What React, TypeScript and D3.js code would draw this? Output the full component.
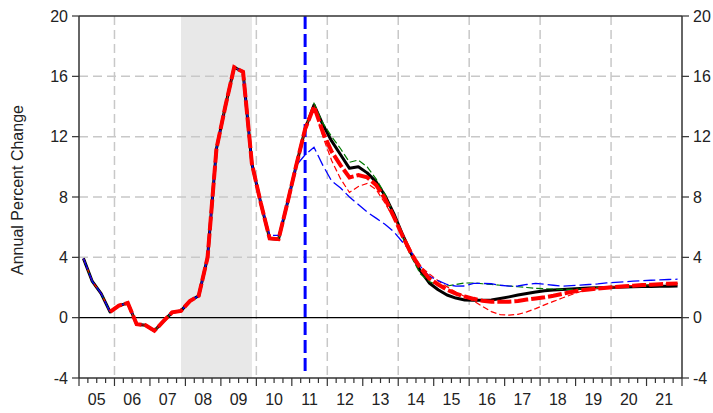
import React from 'react';
import * as d3 from 'd3';

// Year tick labels (2005..2021)
const yearLabels = ['05','06','07','08','09','10','11','12','13','14','15','16','17','18','19','20','21'];
const yTicks = [-4, 0, 4, 8, 12, 16, 20];
const gridYears = [2006, 2008, 2010, 2012, 2014, 2016, 2018, 2020];

// Quarterly history, 2005Q1 .. 2011Q1
const history = [3.93, 2.4, 1.6, 0.38, 0.8, 0.97, -0.43, -0.5, -0.87, -0.25, 0.35, 0.45, 1.1, 1.45, 4.0, 11.2, 14.0, 16.6, 16.3, 10.2, 7.6, 5.25, 5.2, 7.6, 10.1];
// Blue series history differs slightly around the 2010 trough
const blueHistory = [3.93, 2.4, 1.6, 0.38, 0.8, 0.97, -0.43, -0.5, -0.87, -0.25, 0.35, 0.45, 1.1, 1.45, 4.0, 11.2, 14.0, 16.6, 16.3, 10.2, 7.6, 5.45, 5.45, 7.6, 10.1];

// Paths from 2011Q2 .. 2021Q4
const blackPath = [12.5, 14.1, 12.8, 11.7, 10.8, 9.9, 10.0, 9.6, 9.0, 8.1, 6.9, 5.5, 4.2, 3.1, 2.3, 1.85, 1.5, 1.3, 1.17, 1.15, 1.15, 1.17, 1.27, 1.38, 1.5, 1.6, 1.7, 1.78, 1.83, 1.87, 1.9, 1.93, 1.96, 1.98, 2.0, 2.02, 2.04, 2.05, 2.06, 2.07, 2.08, 2.09, 2.1];
const redThickPath = [12.5, 14.0, 12.3, 11.0, 10.1, 9.3, 9.45, 9.3, 8.8, 7.9, 6.7, 5.4, 4.2, 3.3, 2.6, 2.2, 1.85, 1.6, 1.4, 1.25, 1.12, 1.05, 1.05, 1.06, 1.1, 1.2, 1.27, 1.35, 1.45, 1.58, 1.7, 1.8, 1.87, 1.93, 1.98, 2.03, 2.08, 2.12, 2.16, 2.19, 2.22, 2.25, 2.27];
const redThinPath = [12.5, 14.0, 12.0, 10.4, 9.2, 8.3, 8.7, 8.9, 8.5, 7.6, 6.6, 5.5, 4.4, 3.4, 2.9, 2.45, 2.05, 1.7, 1.4, 1.1, 0.75, 0.4, 0.2, 0.17, 0.22, 0.38, 0.6, 0.85, 1.08, 1.3, 1.52, 1.72, 1.87, 1.95, 2.0, 2.05, 2.1, 2.13, 2.16, 2.19, 2.22, 2.25, 2.27];
const greenPath = [12.5, 14.2, 12.9, 12.0, 11.2, 10.3, 10.45, 10.0, 9.2, 8.2, 6.8, 5.3, 4.0, 2.9, 2.4, 2.15, 2.1, 2.2, 2.3, 2.3, 2.25, 2.2, 2.15, 2.1, 2.05, 2.0, 1.95, 1.92, 1.9, 1.88, 1.88, 1.9, 1.95, 2.0, 2.05, 2.08, 2.1, 2.13, 2.16, 2.19, 2.22, 2.24, 2.27];
const bluePath = [10.8, 11.3, 10.1, 9.05, 8.6, 8.0, 7.5, 7.0, 6.6, 6.2, 5.7, 5.0, 4.3, 3.4, 2.75, 2.45, 2.2, 2.09, 2.1, 2.27, 2.27, 2.25, 2.15, 2.09, 2.1, 2.2, 2.27, 2.22, 2.15, 2.09, 2.12, 2.16, 2.2, 2.24, 2.3, 2.34, 2.38, 2.42, 2.45, 2.48, 2.5, 2.53, 2.55];

const START_YEAR = 2005;
const END_YEAR = 2022;
const recession = [2007.875, 2009.875];
const forecastLine = 2011.375;

const W = 713, H = 413;
const L = 79, R = 682, T = 16, B = 378;
const FONT = '"Liberation Sans Narrow", "Arial Narrow", "Liberation Sans", sans-serif';

export default function App() {
  const x = d3.scaleLinear().domain([START_YEAR, END_YEAR]).range([L, R]);
  const y = d3.scaleLinear().domain([-4, 20]).range([B, T]);
  const qx = (i: number) => x(START_YEAR + (i + 0.5) / 4);

  type P = { i: number; v: number };
  const line = d3.line<P>().x(d => qx(d.i)).y(d => y(d.v));
  const mk = (vals: number[], offset: number) => vals.map((v, k) => ({ i: k + offset, v }));

  const hist = mk(history, 0);
  const blackData = [...hist, ...mk(blackPath, history.length)];
  const redThickData = [...hist, ...mk(redThickPath, history.length)].slice(3);
  const redThinData = [...hist, ...mk(redThinPath, history.length)];
  const greenData = [...hist, ...mk(greenPath, history.length)];
  const blueData = [...mk(blueHistory, 0), ...mk(bluePath, blueHistory.length)];

  const quarterTicks: number[] = [];
  for (let t = START_YEAR; t <= END_YEAR + 1e-9; t += 0.25) quarterTicks.push(t);

  return (
    <svg width={W} height={H} style={{ position: 'absolute', left: 0, top: 0, background: '#fff' }}>
      {/* recession shading */}
      <rect x={x(recession[0])} y={T} width={x(recession[1]) - x(recession[0])} height={B - T} fill="#e8e8e8" />
      {/* grid */}
      {[4, 8, 12, 16].map(v => (
        <line key={'gy' + v} x1={L} x2={R} y1={y(v)} y2={y(v)} stroke="#c8c8c8" strokeWidth={1.5} strokeDasharray="9,5" />
      ))}
      {gridYears.map(yr => (
        yr > recession[0] && yr < recession[1] ? null :
        <line key={'gx' + yr} x1={x(yr)} x2={x(yr)} y1={T} y2={B} stroke="#c8c8c8" strokeWidth={1.5} strokeDasharray="9,5" />
      ))}
      {/* zero line */}
      <line x1={L} x2={R} y1={y(0)} y2={y(0)} stroke="#000" strokeWidth={1.2} />
      {/* forecast start marker */}
      <line x1={x(forecastLine)} x2={x(forecastLine)} y1={T} y2={B - 4} stroke="#0000ff" strokeWidth={3} strokeDasharray="13,5" />
      {/* series */}
      <path d={line(blackData) || ''} fill="none" stroke="#000" strokeWidth={3} strokeLinejoin="round" />
      <path d={line(greenData) || ''} fill="none" stroke="#007a00" strokeWidth={1.2} strokeDasharray="7,3" />
      <path d={line(redThinData) || ''} fill="none" stroke="#ff0000" strokeWidth={1.2} strokeDasharray="6,3" />
      <path d={line(blueData) || ''} fill="none" stroke="#0000ff" strokeWidth={1.3} strokeDasharray="12,4" />
      <path d={line(redThickData) || ''} fill="none" stroke="#ff0000" strokeWidth={4} strokeDasharray="14,3" />
      {/* frame */}
      <line x1={L} x2={R} y1={T} y2={T} stroke="#333" strokeWidth={1.5} />
      <line x1={L} x2={R} y1={B} y2={B} stroke="#333" strokeWidth={1.5} />
      <line x1={L} x2={L} y1={T} y2={B} stroke="#333" strokeWidth={1.5} />
      <line x1={R} x2={R} y1={T} y2={B} stroke="#333" strokeWidth={1.5} />
      {/* y ticks and labels */}
      {yTicks.map(v => (
        <g key={'yt' + v}>
          <line x1={L - 7} x2={L} y1={y(v)} y2={y(v)} stroke="#333" strokeWidth={1.2} />
          <line x1={R} x2={R + 7} y1={y(v)} y2={y(v)} stroke="#333" strokeWidth={1.2} />
          <text x={L - 11} y={y(v)} dy="0.35em" textAnchor="end" fontFamily={FONT} fontSize={16} fill="#222">{v}</text>
          <text x={R + 11} y={y(v)} dy="0.35em" textAnchor="start" fontFamily={FONT} fontSize={16} fill="#222">{v}</text>
        </g>
      ))}
      {/* x ticks */}
      {quarterTicks.map((t, k) => {
        const major = k % 4 === 0;
        return <line key={'xt' + k} x1={x(t)} x2={x(t)} y1={B} y2={B + (major ? 8 : 5)} stroke="#333" strokeWidth={1.2} />;
      })}
      {yearLabels.map((lab, k) => (
        <text key={'xl' + lab} x={x(START_YEAR + k + 0.5)} y={405} textAnchor="middle" fontFamily={FONT} fontSize={16} fill="#222">{lab}</text>
      ))}
      <text transform={`translate(23, 190) rotate(-90)`} textAnchor="middle" fontFamily={FONT} fontSize={16} fill="#222">Annual Percent Change</text>
    </svg>
  );
}
